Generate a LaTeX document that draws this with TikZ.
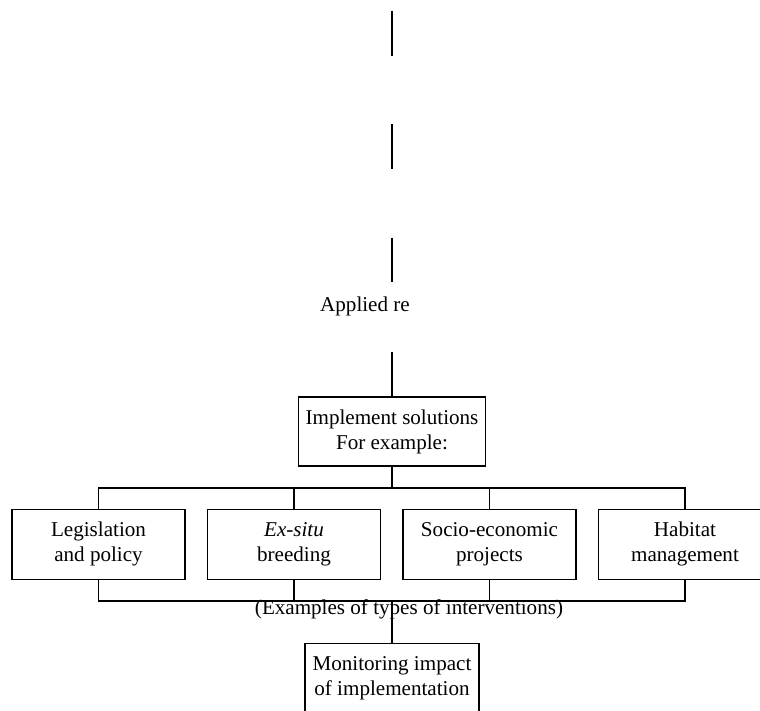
\documentclass[tikz,border=0pt]{standalone}
\usepackage{fontspec}
\setmainfont{Liberation Serif}
\usepackage{tikz}
\usetikzlibrary{positioning}

\begin{document}
\begin{tikzpicture}[
  caixa/.style={draw=black, line width=0.7pt, fill=white, align=center,
                minimum width=3.46cm, minimum height=1.4cm, inner sep=0pt,
                font=\fontsize{12pt}{14.2pt}\selectfont},
  topo/.style={caixa, minimum width=3.74cm, minimum height=1.38cm},
  rotulo/.style={font=\fontsize{12pt}{14.2pt}\selectfont, inner sep=0pt},
  liga/.style={draw=black, line width=0.7pt}
]
\useasboundingbox (0,0) rectangle (15.2,-14.22);
% pieces of the line from above
\coordinate (cima1) at (7.84,-0.214);
\coordinate (cima2) at (7.84,-5.634);
\draw[liga, dash pattern=on 0.9cm off 1.37cm] (cima1) -- (cima2);
\node[rotulo, anchor=base] (aplic) at (7.30,-6.22) {Applied re};
\coordinate (cima3) at (7.84,-7.04);
\node[topo] (impl) at (7.84,-8.63) {Implement solutions\\For example:};
\draw[liga] (cima3) -- (impl);
% the interventions
\node[caixa] (leg) at (1.97,-10.886) {Legislation\\and policy};
\node[caixa] (exs) at (5.88,-10.886) {\textit{Ex-situ}\\breeding};
\node[caixa] (soc) at (9.79,-10.886) {Socio-economic\\projects};
\node[caixa] (hab) at (13.70,-10.886) {Habitat\\management};
\coordinate (bus1) at (7.84,-9.76);
\draw[liga] (impl) -- (bus1);
\draw[liga] (leg.north) |- (bus1);
\draw[liga] (exs.north) |- (bus1);
\draw[liga] (soc.north) |- (bus1);
\draw[liga] (hab.north) |- (bus1);
\coordinate (bus2) at (7.84,-12.02);
\draw[liga] (leg.south) |- (bus2);
\draw[liga] (exs.south) |- (bus2);
\draw[liga] (soc.south) |- (bus2);
\draw[liga] (hab.south) |- (bus2);
\node[rotulo, anchor=base] (tipos) at (8.18,-12.28) {(Examples of types of interventions)};
\node[caixa, minimum width=3.48cm] (mon) at (7.84,-13.57) {Monitoring impact\\of implementation};
\draw[liga] (bus2) -- (mon);
\end{tikzpicture}
\end{document}
